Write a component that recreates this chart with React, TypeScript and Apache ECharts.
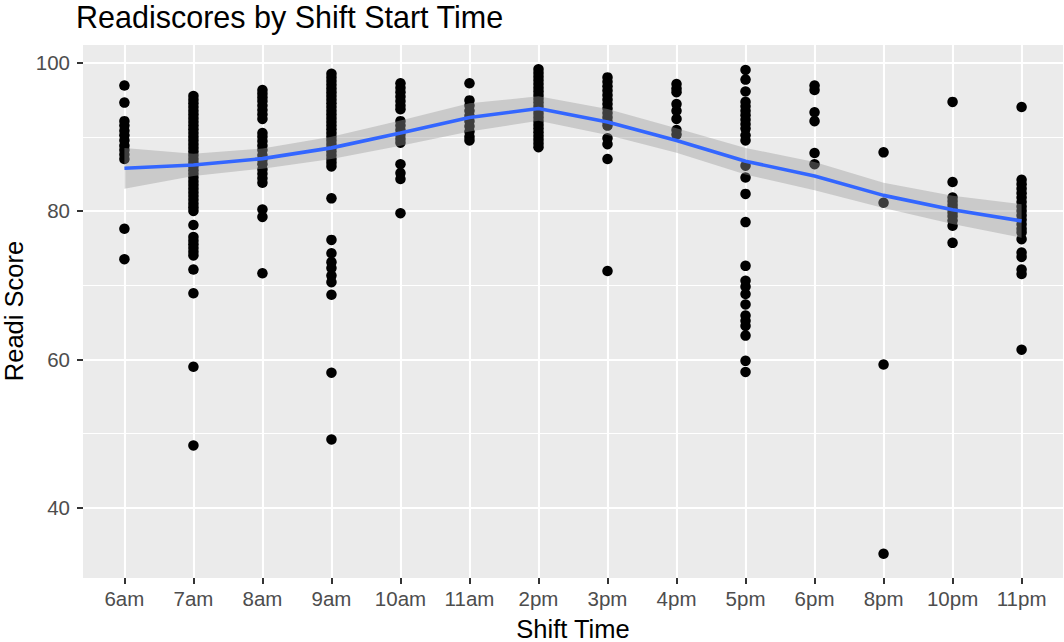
import React, { useEffect, useRef } from "react";
import * as echarts from "echarts";

// ---- Data ----
const shiftTimes = ["6am", "7am", "8am", "9am", "10am", "11am", "2pm", "3pm", "4pm", "5pm", "6pm", "8pm", "10pm", "11pm"];

const s6am = [96.9, 94.6, 92.1, 91.5, 90.8, 90.2, 89.5, 88.8, 88.2, 87.6, 87.0, 77.6, 73.5];
const s7am = [95.5, 95.0, 94.5, 94.0, 93.5, 93.0, 92.5, 92.0, 91.5, 91.0, 90.5, 90.0, 89.5, 89.0, 88.5, 88.0, 87.5, 87.0, 86.5, 86.0, 85.5, 85.0, 84.5, 84.0, 83.5, 83.0, 82.5, 82.0, 81.5, 81.0, 80.5, 80.0, 78.1, 76.5, 76.0, 75.5, 75.0, 74.5, 74.0, 72.1, 68.9, 59.0, 48.4];
const s8am = [96.3, 95.8, 95.3, 94.8, 94.2, 93.6, 93.0, 92.4, 90.5, 90.0, 89.4, 88.8, 88.2, 87.5, 86.9, 86.3, 85.6, 85.0, 84.4, 83.8, 80.2, 79.2, 71.6];
const s9am = [98.5, 98.0, 97.5, 97.0, 96.5, 96.0, 95.5, 95.0, 94.5, 94.0, 93.5, 93.0, 92.5, 92.0, 91.5, 91.0, 90.5, 90.0, 89.5, 89.0, 88.5, 88.0, 87.5, 87.0, 86.5, 86.0, 81.7, 76.1, 74.3, 73.1, 72.3, 71.3, 70.4, 68.7, 58.2, 49.2];
const s10am = [97.2, 96.6, 96.0, 95.4, 94.8, 94.2, 93.7, 92.1, 91.5, 90.9, 90.3, 89.7, 89.2, 86.3, 85.1, 84.3, 79.7];
const s11am = [97.2, 94.9, 94.2, 93.5, 92.8, 92.1, 91.4, 90.7, 90.0, 89.5];
const s2pm = [99.1, 98.6, 98.1, 97.6, 97.1, 96.6, 96.1, 95.6, 95.1, 94.6, 94.1, 93.6, 93.1, 92.6, 92.1, 91.6, 91.1, 90.6, 90.1, 89.6, 89.1, 88.6];
const s3pm = [98.0, 97.4, 96.8, 96.2, 95.6, 95.0, 94.4, 93.8, 93.2, 92.6, 92.0, 91.5, 89.8, 89.0, 87.0, 71.9];
const s4pm = [97.1, 96.5, 96.0, 94.4, 93.5, 92.4, 90.9, 90.3];
const s5pm = [99.0, 97.7, 96.1, 94.7, 94.1, 93.5, 92.9, 92.3, 91.7, 91.1, 90.2, 89.5, 86.1, 84.5, 82.3, 78.5, 72.6, 70.6, 69.8, 68.8, 67.4, 65.9, 65.2, 64.5, 63.2, 59.8, 58.3];
const s6pm = [96.9, 96.3, 93.3, 92.1, 87.8, 86.3];
const s8pm = [87.9, 81.1, 59.3, 33.8];
const s10pm = [94.7, 83.9, 81.8, 81.3, 80.8, 80.3, 79.8, 79.3, 78.7, 78.0, 75.7];
const s11pm = [94.0, 84.2, 83.6, 83.0, 82.4, 81.8, 81.2, 80.6, 80.0, 79.4, 78.8, 78.2, 77.6, 77.1, 76.2, 74.4, 73.8, 72.1, 71.5, 61.3];

const scoresByShift = [s6am, s7am, s8am, s9am, s10am, s11am, s2pm, s3pm, s4pm, s5pm, s6pm, s8pm, s10pm, s11pm];

// Smoothed fit with confidence band
const smoothFit = [85.75, 86.2, 87.05, 88.5, 90.5, 92.6, 93.8, 92.0, 89.5, 86.7, 84.7, 82.1, 80.15, 78.65];
const smoothUpper = [88.5, 87.7, 88.4, 90.0, 92.2, 94.5, 95.45, 93.75, 91.15, 88.5, 86.6, 83.8, 82.05, 80.9];
const smoothLower = [83.0, 84.7, 85.7, 87.0, 88.8, 90.7, 92.15, 90.25, 87.85, 84.9, 82.8, 80.4, 78.25, 76.4];

const yTicks = [40, 60, 80, 100];
const yMinorTicks = [50, 70, 90];

export default function App() {
  const ref = useRef<HTMLDivElement>(null);

  useEffect(() => {
    document.body.style.margin = "0";
    if (!ref.current) return;
    const chart = echarts.init(ref.current, undefined, { renderer: "svg" });

    const points: number[][] = [];
    scoresByShift.forEach((arr, i) => arr.forEach((v) => points.push([i, v])));
    const allVals = points.map((p) => p[1]);
    const vMin = Math.min(...allVals);
    const vMax = Math.max(...allVals);
    const span = vMax - vMin;
    const yMin = vMin - 0.05 * span;
    const yMax = vMax + 0.05 * span;
    const xIdx = shiftTimes.map((_, i) => i);

    const font = "'Liberation Sans', Arial, Helvetica, sans-serif";

    chart.setOption({
      animation: false,
      backgroundColor: "#FFFFFF",
      grid: {
        left: 83,
        right: 1,
        top: 45,
        bottom: 64,
        show: true,
        backgroundColor: "#EBEBEB",
        borderWidth: 0,
        containLabel: false,
      },
      xAxis: {
        type: "value",
        min: -0.6,
        max: shiftTimes.length - 1 + 0.6,
        axisLine: { show: false, onZero: false },
        axisTick: {
          show: true,
          customValues: xIdx,
          length: 6,
          lineStyle: { color: "#333333", width: 2 },
        },
        axisLabel: {
          customValues: xIdx,
          formatter: (v: number) => shiftTimes[Math.round(v)] ?? "",
          color: "#4D4D4D",
          fontSize: 20.5,
          fontFamily: font,
          margin: 10,
        },
        splitLine: { show: true, lineStyle: { color: "#FFFFFF", width: 2.1 } },
      },
      yAxis: {
        type: "value",
        min: yMin,
        max: yMax,
        axisLine: { show: false, onZero: false },
        axisTick: {
          show: true,
          customValues: yTicks,
          length: 6,
          lineStyle: { color: "#333333", width: 2 },
        },
        axisLabel: {
          customValues: yTicks,
          color: "#4D4D4D",
          fontSize: 20.5,
          fontFamily: font,
          margin: 13,
        },
        splitLine: { show: true, lineStyle: { color: "#FFFFFF", width: 2.1 } },
      },
      graphic: [
        {
          type: "text",
          left: 76,
          top: 1,
          silent: true,
          style: { text: "Readiscores by Shift Start Time", fill: "#000000", fontSize: 30.5, fontFamily: font },
        },
        {
          type: "text",
          x: 14,
          y: 311,
          rotation: Math.PI / 2,
          silent: true,
          style: {
            text: "Readi Score",
            fill: "#000000",
            fontSize: 25.5,
            fontFamily: font,
            textAlign: "center",
            textVerticalAlign: "middle",
          },
        },
        {
          type: "text",
          x: 573,
          y: 629,
          silent: true,
          style: {
            text: "Shift Time",
            fill: "#000000",
            fontSize: 25.5,
            fontFamily: font,
            textAlign: "center",
            textVerticalAlign: "middle",
          },
        },
      ],
      series: [
        {
          type: "line",
          data: [],
          silent: true,
          markLine: {
            silent: true,
            symbol: "none",
            z: 1,
            label: { show: false },
            lineStyle: { color: "#FFFFFF", width: 1, type: "solid" },
            data: yMinorTicks.map((v) => ({ yAxis: v })),
          },
        },
        {
          type: "scatter",
          data: points,
          symbol: "circle",
          symbolSize: 10.5,
          itemStyle: { color: "#000000", opacity: 1 },
          silent: true,
          z: 2,
        },
        {
          type: "custom",
          silent: true,
          z: 3,
          data: xIdx.map((i) => [i, smoothLower[i], smoothUpper[i]]),
          encode: { x: 0, y: [1, 2] },
          renderItem: (params: any, api: any) => {
            if (params.dataIndex !== 0) return null;
            const pts: number[][] = [];
            for (let i = 0; i < xIdx.length; i++) pts.push(api.coord([i, smoothUpper[i]]));
            for (let i = xIdx.length - 1; i >= 0; i--) pts.push(api.coord([i, smoothLower[i]]));
            return {
              type: "polygon",
              shape: { points: pts },
              style: { fill: "rgba(153,153,153,0.4)", stroke: "none" },
            };
          },
        },
        {
          type: "line",
          data: xIdx.map((i) => [i, smoothFit[i]]),
          symbol: "none",
          silent: true,
          z: 4,
          lineStyle: { color: "#3366FF", width: 3.6 },
        },
      ],
    });

    return () => chart.dispose();
  }, []);

  return <div ref={ref} style={{ width: 1064, height: 642 }} />;
}
